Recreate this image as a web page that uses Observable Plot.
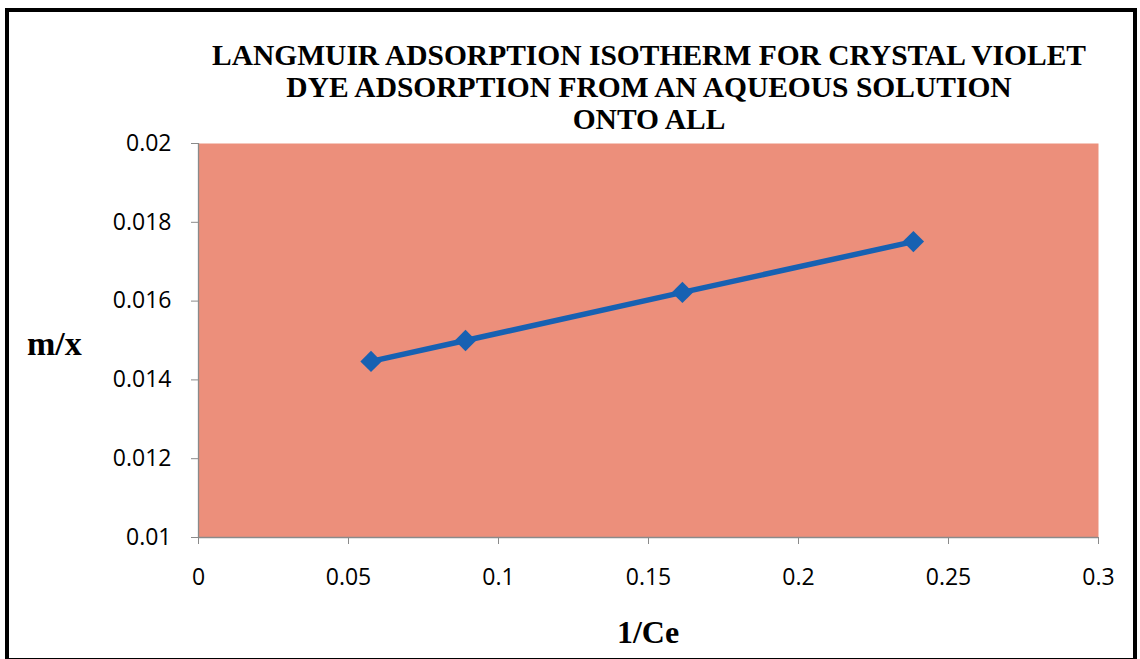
<!DOCTYPE html>
<html>
<head>
<meta charset="utf-8">
<script src="https://cdn.jsdelivr.net/npm/d3@7"></script>
<script src="https://cdn.jsdelivr.net/npm/@observablehq/plot@0.6"></script>
<style>
  html, body { margin: 0; padding: 0; background: #fff; }
  #wrap { position: relative; width: 1140px; height: 659px; overflow: hidden; background: #fff; }
  #border { position: absolute; left: 5px; top: 8px; width: 1132px; height: 654px; border: 4px solid #000; box-sizing: border-box; }
  #title { position: absolute; left: 99px; width: 1100px; top: 39px; text-align: center;
           font-family: "Liberation Serif", "Times New Roman", "DejaVu Serif", serif; font-weight: bold; font-size: 29.5px; line-height: 32px; color: #000; }
  .axlabel { position: absolute; font-family: "Liberation Serif", "Times New Roman", "DejaVu Serif", serif; font-weight: bold; color: #000; line-height: 1; white-space: nowrap; }
  #ylab { left: 27px; top: 327px; font-size: 34px; }
  #xlab { left: 548px; width: 200px; text-align: center; top: 616px; font-size: 32px; }
  #chart { position: absolute; left: 0; top: 110px; }
  #chart svg { overflow: visible; }
</style>
</head>
<body>
<div id="wrap">
  <div id="title"></div>
  <div id="chart"></div>
  <div id="ylab" class="axlabel"></div>
  <div id="xlab" class="axlabel"></div>
  <div id="border"></div>
</div>
<script>
const titleLines = ["LANGMUIR ADSORPTION ISOTHERM FOR CRYSTAL VIOLET", "DYE ADSORPTION FROM AN AQUEOUS SOLUTION", "ONTO ALL"];
const xLabel = "1/Ce";
const yLabel = "m/x";
const invCe = [0.0575, 0.0890, 0.1613, 0.2383];
const mOverX = [0.01447, 0.0150, 0.01622, 0.01751];
const xTicks = [0, 0.05, 0.1, 0.15, 0.2, 0.25, 0.3];
const yTicks = [0.01, 0.012, 0.014, 0.016, 0.018, 0.02];

document.getElementById("title").innerHTML = titleLines.map(s => `<div>${s}</div>`).join("");
document.getElementById("ylab").textContent = yLabel;
document.getElementById("xlab").textContent = xLabel;

const data = invCe.map((x, i) => ({x, y: mOverX[i]}));
const blue = "#1761B2";

const chart = Plot.plot({
  width: 1140,
  height: 549,
  marginLeft: 198,
  marginRight: 42,
  marginTop: 33,
  marginBottom: 122,
  style: { fontFamily: "'Open Sans', sans-serif", fontSize: "23px", color: "#000", background: "transparent", overflow: "visible" },
  x: { domain: [0, 0.3], label: null },
  y: { domain: [0.01, 0.02], label: null },
  marks: [
    Plot.frame({ fill: "#EC8F7B", stroke: null }),
    Plot.ruleX([0], { stroke: "#8a8a8a", strokeWidth: 1.3 }),
    Plot.ruleY([0.01], { stroke: "#8a8a8a", strokeWidth: 1.3 }),
    Plot.axisX({ ticks: xTicks, tickFormat: d => String(d), tickSize: 7, tickPadding: 24, stroke: "#8a8a8a", fill: "#000", label: null }),
    Plot.axisY({ ticks: yTicks, tickFormat: d => String(+d.toFixed(3)), tickSize: 7, tickPadding: 20, stroke: "#8a8a8a", fill: "#000", label: null }),
    Plot.line(data, { x: "x", y: "y", stroke: blue, strokeWidth: 5.5 }),
    Plot.dot(data, { x: "x", y: "y", symbol: "square", rotate: 45, r: 8.5, fill: blue, stroke: null })
  ]
});
document.getElementById("chart").appendChild(chart);
</script>
</body>
</html>
